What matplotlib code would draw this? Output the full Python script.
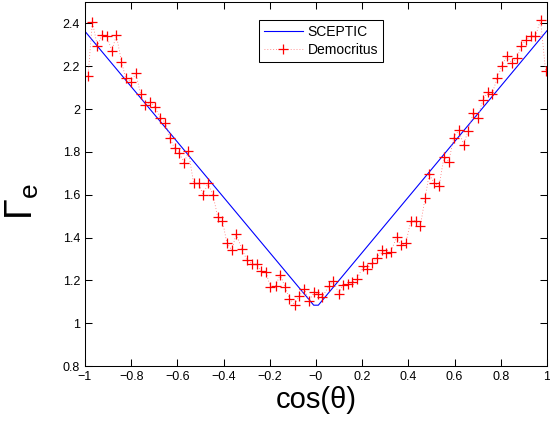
import matplotlib
matplotlib.use("Agg")
import matplotlib.pyplot as plt
from matplotlib.ticker import FuncFormatter
from matplotlib.legend_handler import HandlerTuple
import numpy as np

plt.rcParams["font.family"] = ["Liberation Sans", "DejaVu Sans"]
plt.rcParams["mathtext.fontset"] = "custom"
plt.rcParams["mathtext.rm"] = "Liberation Sans"
plt.rcParams["mathtext.it"] = "Liberation Sans"

# SCEPTIC: piecewise linear V
sceptic_x = [-1.0, -0.01, 0.01, 1.0]
sceptic_y = [2.363, 1.084, 1.084, 2.366]

# Democritus: bin-averaged points
demo_x = [-0.987, -0.968, -0.946, -0.927, -0.906, -0.884, -0.864, -0.842, -0.824, -0.800,
          -0.780, -0.759, -0.740, -0.717, -0.697, -0.675, -0.652, -0.633, -0.612, -0.592,
          -0.571, -0.552, -0.530, -0.508, -0.489, -0.468, -0.446, -0.425, -0.405, -0.386,
          -0.364, -0.346, -0.321, -0.300, -0.275, -0.257, -0.238, -0.217, -0.197, -0.175,
          -0.155, -0.134, -0.115, -0.092, -0.073, -0.050, -0.030, -0.008, 0.008, 0.028,
          0.055, 0.075, 0.099, 0.115, 0.140, 0.158, 0.178, 0.202, 0.222, 0.243,
          0.265, 0.284, 0.305, 0.323, 0.349, 0.367, 0.389, 0.410, 0.432, 0.452,
          0.472, 0.490, 0.512, 0.533, 0.554, 0.575, 0.596, 0.618, 0.639, 0.658,
          0.680, 0.700, 0.722, 0.743, 0.762, 0.785, 0.805, 0.826, 0.848, 0.870,
          0.889, 0.910, 0.929, 0.950, 0.972, 0.994]
demo_y = [2.153, 2.406, 2.293, 2.347, 2.340, 2.273, 2.344, 2.220, 2.146, 2.127,
          2.167, 2.068, 2.017, 2.034, 2.009, 1.960, 1.936, 1.866, 1.816, 1.795,
          1.749, 1.803, 1.653, 1.653, 1.599, 1.653, 1.599, 1.494, 1.479, 1.375,
          1.340, 1.417, 1.347, 1.297, 1.275, 1.275, 1.243, 1.239, 1.169, 1.175,
          1.227, 1.169, 1.115, 1.086, 1.127, 1.160, 1.104, 1.146, 1.137, 1.123,
          1.172, 1.197, 1.138, 1.180, 1.181, 1.192, 1.205, 1.265, 1.254, 1.280,
          1.306, 1.340, 1.327, 1.332, 1.401, 1.363, 1.375, 1.476, 1.479, 1.456,
          1.583, 1.696, 1.653, 1.641, 1.777, 1.755, 1.867, 1.901, 1.833, 1.898,
          1.980, 1.958, 2.042, 2.078, 2.071, 2.146, 2.203, 2.247, 2.215, 2.239,
          2.296, 2.324, 2.342, 2.340, 2.417, 2.177]

xticks = np.arange(-1.0, 1.01, 0.2)
yticks = np.arange(0.8, 2.41, 0.2)

fig = plt.figure(figsize=(5.5, 4.23), dpi=100)
ax = fig.add_axes([85/550, 57/423, 462/550, 364/423])

h1, = ax.plot(sceptic_x, sceptic_y, color="blue", lw=0.8)
dots, = ax.plot(demo_x, demo_y, color="#ff7070", ls=(0, (1, 2.5)), lw=0.6)
marks, = ax.plot(demo_x, demo_y, color="red", ls="none", marker="+", ms=7, mew=0.9)

ax.set_xlim(-1, 1)
ax.set_ylim(0.8, 2.5)
ax.set_xticks(xticks)
ax.set_yticks(yticks)
fmt = FuncFormatter(lambda v, p: ("%g" % round(v, 2)).replace("-", "\u2212"))
ax.xaxis.set_major_formatter(fmt)
ax.yaxis.set_major_formatter(fmt)
ax.tick_params(direction="in", length=5, width=0.75, labelsize=9, top=True, right=True)
for s in ax.spines.values():
    s.set_linewidth(0.75)

ax.set_xlabel("cos(\u03b8)", fontsize=21, labelpad=2)
ax.set_ylabel(r"$\Gamma_{\rm e}$", fontsize=27)
ax.yaxis.set_label_coords(-0.095, 0.45)

leg = ax.legend([h1, (dots, marks)], ["SCEPTIC", "Democritus"],
                handler_map={tuple: HandlerTuple(ndivide=1)},
                loc="upper left", bbox_to_anchor=(174/462, 1 - 18/364), borderaxespad=0,
                fontsize=10, frameon=True, fancybox=False, edgecolor="black", framealpha=1,
                borderpad=0.35, handlelength=2.8, handletextpad=0.35, labelspacing=0.3)
leg.get_frame().set_linewidth(0.75)

fig.savefig("out.png", dpi=100)
